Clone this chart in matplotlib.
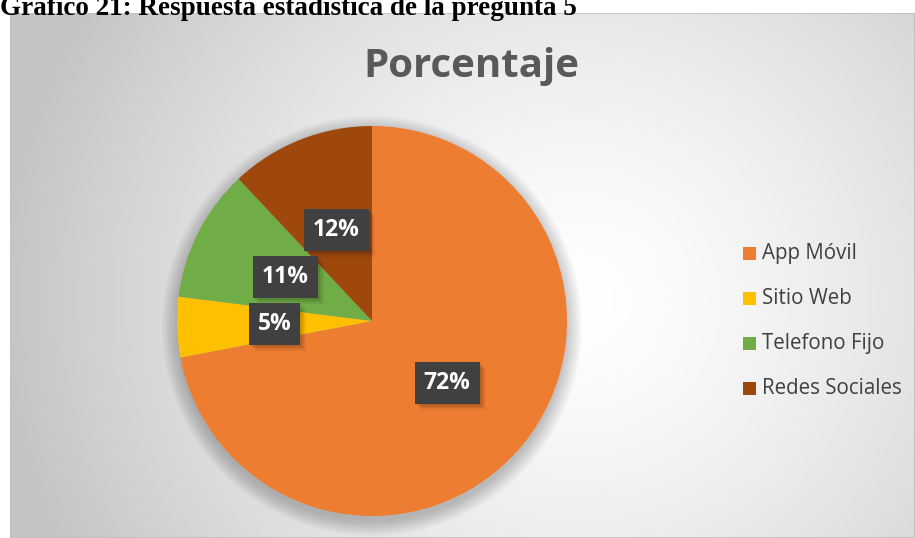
import numpy as np
import matplotlib
matplotlib.use("Agg")
import matplotlib.pyplot as plt
from matplotlib.patches import Circle, Rectangle

categories = ["App Móvil", "Sitio Web", "Telefono Fijo", "Redes Sociales"]
values = [72, 5, 11, 12]
colors = ["#ED7D31", "#FFC000", "#70AD47", "#9E480E"]
title = "Porcentaje"
caption = "Gráfico 21: Respuesta estadística de la pregunta 5"

W, H = 915, 538
fig = plt.figure(figsize=(W / 100, H / 100), dpi=100)
fig.patch.set_facecolor("white")

def px_axes(x0, y0, w, h):
    return fig.add_axes([x0 / W, 1 - (y0 + h) / H, w / W, h / H])

# background gradient of chart area
bx0, by0 = 10, 13
bw, bh = W - bx0, H - by0
bg = px_axes(bx0, by0, bw, bh)
yy, xx = np.mgrid[0:bh, 0:bw]
cx, cy = 580 - bx0, 300 - by0
d = np.sqrt(((xx - cx) / 580.0) ** 2 + ((yy - cy) / 560.0) ** 2)
d = np.clip(d, 0, 1)
v = 1.0 - 0.23 * d ** 1.4
img = np.dstack([v, v, v])
bg.imshow(img, extent=[0, 1, 0, 1], aspect="auto", origin="upper")
bg.set_xlim(0, 1); bg.set_ylim(0, 1)
bg.axis("off")
bg.add_patch(Rectangle((0, 0), 1, 1, transform=bg.transAxes, fill=False,
                       edgecolor="#bfbfbf", lw=1.2))

# pie
R = 195
pcx, pcy = 372, 321
M = 30
ax = px_axes(pcx - R - M, pcy - R - M, 2 * R + 2 * M, 2 * R + 2 * M)
lim = (R + M) / R
ax.axis("off")

# soft shadow
for i in range(14):
    r = 1.0 + 0.006 * i
    ax.add_patch(Circle((0.0, -0.025), r, facecolor="black", alpha=0.016,
                        edgecolor="none", zorder=0))

lblfont = ["Open Sans", "DejaVu Sans"]
wedges, texts, autotexts = ax.pie(
    values, colors=colors, startangle=90, counterclock=False,
    radius=1.0, autopct=lambda p: f"{p:.0f}%", pctdistance=0.5,
    wedgeprops=dict(linewidth=0, edgecolor="none"),
    textprops=dict(color="white", fontsize=16.5, fontweight="bold",
                   family=lblfont))
ax.set_xlim(-lim, lim); ax.set_ylim(-lim, lim)
ax.set_aspect("equal")

fig.canvas.draw()
renderer = fig.canvas.get_renderer()
bxh = 42 / R
for t in autotexts:
    t.set_zorder(10)
    x, y = t.get_position()
    tw = t.get_window_extent(renderer).width
    bxw = (tw + 18) / R
    # shadow
    for k, a in enumerate([0.10, 0.08, 0.06]):
        o = (2 + 2 * k) / R
        ax.add_patch(Rectangle((x - bxw / 2 + o, y - bxh / 2 - o), bxw, bxh,
                               facecolor="black", alpha=a, edgecolor="none",
                               zorder=8))
    ax.add_patch(Rectangle((x - bxw / 2, y - bxh / 2), bxw, bxh,
                           facecolor="#404040", edgecolor="none", zorder=9))

# title
fig.text(471 / W, 1 - 66 / H, title, ha="center", va="center",
         fontsize=29, fontweight="bold", color="#595959",
         family=["Open Sans", "DejaVu Sans"])

# caption (partly clipped at top)
fig.text(0 / W, 1 - 15 / H, caption, ha="left", va="baseline",
         fontsize=19.5, fontweight="bold", color="black",
         family=["Liberation Serif", "DejaVu Serif"])

# legend
rows = [253, 298, 343, 388]
for cat, col, ry in zip(categories, colors, rows):
    fig.patches.append(Rectangle((743 / W, 1 - (ry + 7) / H), 13 / W, 13 / H,
                                 transform=fig.transFigure, facecolor=col,
                                 edgecolor="none"))
    fig.text(762 / W, 1 - ry / H, cat, ha="left", va="center",
             fontsize=14.8, color="#404040",
             family=["Open Sans", "DejaVu Sans"])

fig.savefig("out.png", dpi=100, facecolor="white")
